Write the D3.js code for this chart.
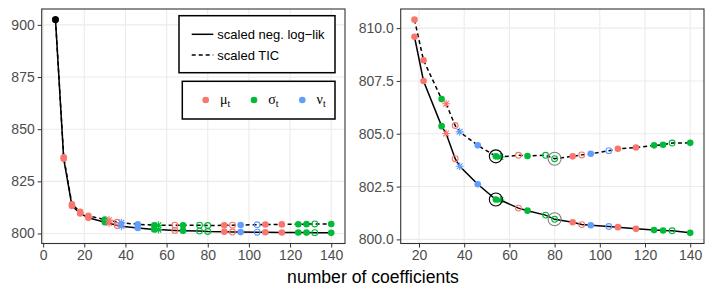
<!DOCTYPE html>
<html lang="en">
<head>
<meta charset="UTF-8">
<title>coefficients path</title>
<style>
body { margin: 0; background: #fff; }
text { font-family: "Liberation Sans", Arial, sans-serif; }
.tick text { fill: #4d4d4d; font-size: 14px; }
.tick line { stroke: #333; }
.domain { display: none; }
.grid line { stroke: #ebebeb; stroke-width: 1.1; }
</style>
</head>
<body>
<svg width="714" height="297"></svg>
<script src="https://d3js.org/d3.v7.min.js"></script>
<script>
// number of coefficients at each step of the path
var nCoef = [6, 10, 14, 18, 22, 30, 32, 36, 38, 46, 54, 56, 64, 68, 76, 80, 88, 92, 96, 104, 108, 116, 124, 128, 132, 140];
// which distribution parameter changed at that step
var param = ["none", "mu", "mu", "mu", "mu", "sigma", "mu", "mu", "nu", "nu", "sigma", "sigma", "mu", "sigma", "sigma", "sigma",
             "mu", "mu", "nu", "nu", "mu", "mu", "sigma", "sigma", "sigma", "sigma"];
// kind of step: filled = added, open = dropped, star = both
var step = ["filled", "filled", "filled", "filled", "filled", "filled", "star", "open", "star", "filled", "filled", "star", "open", "filled",
            "open", "open", "filled", "open", "filled", "open", "filled", "filled", "filled", "filled", "open", "filled"];
var loglik = [902.5, 835.8, 813.2, 809.59, 807.5, 805.36, 805.01, 803.82, 803.46, 802.61, 801.89, 801.86, 801.48, 801.36,
              801.15, 800.95, 800.81, 800.7, 800.67, 800.61, 800.58, 800.5, 800.44, 800.42, 800.41, 800.31];
var tic = [902.5, 836.5, 814.0, 810.4, 808.48, 806.64, 806.42, 805.39, 805.09, 804.45, 803.93, 803.9, 803.98, 803.95,
           803.98, 803.82, 803.93, 804.0, 804.05, 804.2, 804.29, 804.35, 804.45, 804.48, 804.56, 804.57];
// highlighted models (right panel)
var circled = [54, 80];
var circleCol = ["#000", "#808080"];

var xTicks = [0, 20, 40, 60, 80, 100, 120, 140];
var yTicksL = [800, 825, 850, 875, 900];
var yTicksR = [800, 802.5, 805, 807.5, 810];

var colour = { none: "#000", mu: "#F8766D", sigma: "#00BA38", nu: "#619CFF" };

var rows = nCoef.map(function(n, i) {
    return { n: n, p: param[i], s: step[i], ll: loglik[i], tic: tic[i] };
});

var svg = d3.select("svg");

function pad(ext) {
    var r = ext[1] - ext[0];
    return [ext[0] - 0.05 * r, ext[1] + 0.05 * r];
}

function panel(data, left, right, yTicks, yFmt, withCircles) {
    var top = 9, bottom = 243.5;
    var x = d3.scaleLinear().domain(pad(d3.extent(data, function(d) { return d.n; }))).range([left, right]);
    var yAll = data.map(function(d) { return d.ll; }).concat(data.map(function(d) { return d.tic; }));
    var y = d3.scaleLinear().domain(pad(d3.extent(yAll))).range([bottom, top]);
    var g = svg.append("g");
    var xt = xTicks.filter(function(t) { return t >= x.domain()[0]; });

    // grid
    var grid = g.append("g").attr("class", "grid");
    grid.selectAll(".gx").data(xt).enter().append("line")
        .attr("x1", function(d) { return x(d); }).attr("x2", function(d) { return x(d); })
        .attr("y1", top).attr("y2", bottom);
    grid.selectAll(".gy").data(yTicks).enter().append("line")
        .attr("x1", left).attr("x2", right)
        .attr("y1", function(d) { return y(d); }).attr("y2", function(d) { return y(d); });

    // axes
    g.append("g").attr("transform", "translate(0," + bottom + ")")
        .call(d3.axisBottom(x).tickValues(xt).tickSize(4).tickPadding(3).tickFormat(d3.format("d")));
    g.append("g").attr("transform", "translate(" + left + ",0)")
        .call(d3.axisLeft(y).tickValues(yTicks).tickSize(4).tickPadding(3).tickFormat(d3.format(yFmt)));

    // lines
    var lineLL = d3.line().x(function(d) { return x(d.n); }).y(function(d) { return y(d.ll); });
    var lineTIC = d3.line().x(function(d) { return x(d.n); }).y(function(d) { return y(d.tic); });
    g.append("path").attr("d", lineTIC(data)).attr("fill", "none").attr("stroke", "#000")
        .attr("stroke-width", 1.5).attr("stroke-dasharray", "4,3");
    g.append("path").attr("d", lineLL(data)).attr("fill", "none").attr("stroke", "#000")
        .attr("stroke-width", 1.5);

    // points
    ["ll", "tic"].forEach(function(key) {
        data.forEach(function(d) {
            var cx = x(d.n), cy = y(d[key]), c = colour[d.p];
            if (d.s === "filled") {
                g.append("circle").attr("cx", cx).attr("cy", cy).attr("r", 3.3).attr("fill", c);
            } else if (d.s === "open") {
                g.append("circle").attr("cx", cx).attr("cy", cy).attr("r", 2.9)
                    .attr("fill", "none").attr("stroke", c).attr("stroke-width", 1.1);
            } else {
                var a = 4, b = a * 0.72;
                g.append("path")
                    .attr("d", "M" + (cx - a) + "," + cy + "H" + (cx + a) + "M" + cx + "," + (cy - a) + "V" + (cy + a) +
                        "M" + (cx - b) + "," + (cy - b) + "L" + (cx + b) + "," + (cy + b) +
                        "M" + (cx - b) + "," + (cy + b) + "L" + (cx + b) + "," + (cy - b))
                    .attr("stroke", c).attr("stroke-width", 1.1).attr("fill", "none");
            }
        });
    });

    if (withCircles) {
        circled.forEach(function(n, i) {
            var d = data.find(function(r) { return r.n === n; });
            [d.ll, d.tic].forEach(function(v) {
                g.append("circle").attr("cx", x(n)).attr("cy", y(v)).attr("r", 6.5)
                    .attr("fill", "none").attr("stroke", circleCol[i]).attr("stroke-width", 1.1);
            });
        });
    }

    // border
    g.append("rect").attr("x", left).attr("y", top).attr("width", right - left).attr("height", bottom - top)
        .attr("fill", "none").attr("stroke", "#333").attr("stroke-width", 1.1);
    return g;
}

panel(rows, 41.7, 345, yTicksL, "d", false);
panel(rows.filter(function(d) { return d.n >= 18; }), 400.7, 704, yTicksR, ".1f", true);

// x title
svg.append("text").attr("x", 373).attr("y", 283).attr("text-anchor", "middle")
    .style("font-size", "17.6px").attr("fill", "#000").text("number of coefficients");

// legend 1: line types
var leg1 = svg.append("g");
leg1.append("rect").attr("x", 179).attr("y", 15.7).attr("width", 156).attr("height", 57)
    .attr("fill", "#fff").attr("stroke", "#000").attr("stroke-width", 1.5);
var lineKeys = [{ label: "scaled neg. log\u2212lik", dash: null, y: 34.3 }, { label: "scaled TIC", dash: "4,3", y: 55 }];
lineKeys.forEach(function(k) {
    leg1.append("line").attr("x1", 191.7).attr("x2", 213.3).attr("y1", k.y).attr("y2", k.y)
        .attr("stroke", "#000").attr("stroke-width", 1.5).attr("stroke-dasharray", k.dash);
    leg1.append("text").attr("x", 217.3).attr("y", k.y).attr("dy", "0.35em")
        .style("font-size", "13px").text(k.label);
});

// legend 2: parameters
var leg2 = svg.append("g");
leg2.append("rect").attr("x", 182.3).attr("y", 81.3).attr("width", 152.7).attr("height", 37.7)
    .attr("fill", "#fff").attr("stroke", "#000").attr("stroke-width", 1.5);
var paramKeys = [{ p: "mu", sym: "\u03bc", x: 205.7 }, { p: "sigma", sym: "\u03c3", x: 254 }, { p: "nu", sym: "\u03bd", x: 302.3 }];
paramKeys.forEach(function(k) {
    leg2.append("circle").attr("cx", k.x).attr("cy", 100).attr("r", 3.3).attr("fill", colour[k.p]);
    var t = leg2.append("text").attr("x", k.x + 14.3).attr("y", 100).attr("dy", "0.3em")
        .style("font-family", "'Liberation Serif', 'Times New Roman', serif").style("font-size", "14px");
    t.append("tspan").text(k.sym);
    t.append("tspan").attr("dy", "3").style("font-size", "10px").text("t");
});
</script>
</body>
</html>
